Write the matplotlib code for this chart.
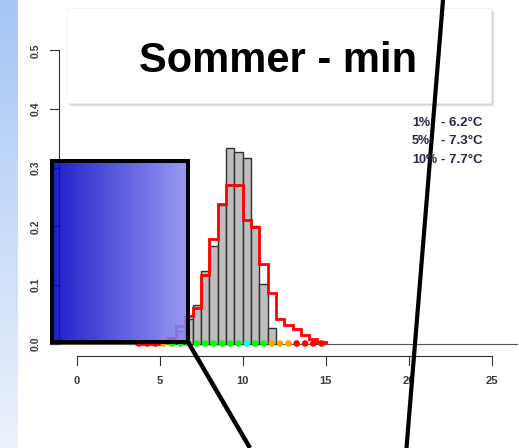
import matplotlib.pyplot as plt
import numpy as np
from matplotlib.patches import Rectangle

plt.rcParams['font.family'] = ['Liberation Sans', 'DejaVu Sans']

# observed histogram (grey bars), bin width 0.5
obs_left = [6.0, 6.5, 7.0, 7.5, 8.0, 8.5, 9.0, 9.5, 10.0, 10.5, 11.0, 11.5]
obs_dens = [0.021, 0.041, 0.065, 0.124, 0.167, 0.237, 0.333, 0.326, 0.316, 0.201, 0.102, 0.027]

# model histogram (red step line)
mod_edges = [3.5, 4.0, 4.5, 5.0, 5.5, 6.0, 6.5, 7.0, 7.5, 8.0, 8.5, 9.0, 9.5, 10.0,
             10.5, 11.0, 11.5, 12.0, 12.5, 13.0, 13.5, 14.0, 14.5, 15.0]
mod_dens = [0.0, 0.0, 0.0, 0.002, 0.010, 0.030, 0.047, 0.060, 0.117, 0.179, 0.238, 0.270,
            0.270, 0.210, 0.198, 0.135, 0.087, 0.042, 0.032, 0.024, 0.015, 0.007, 0.003]

# coloured points on the zero line
pt_x = [3.75, 4.25, 4.75, 5.25, 5.75, 6.25, 6.75, 7.25, 7.75, 8.25, 8.75, 9.25,
        9.75, 10.25, 10.75, 11.25, 11.75, 12.25, 12.75, 13.25, 13.75, 14.25, 14.75]
pt_col = ['red', 'red', 'red', 'orange', 'lime', 'lime', 'lime', 'lime', 'lime', 'lime',
          'lime', 'lime', 'lime', 'cyan', 'lime', 'lime', 'orange', 'orange', 'orange',
          'red', 'red', 'red', 'red']

xticks = [0, 5, 10, 15, 20, 25]
yticks = [0.0, 0.1, 0.2, 0.3, 0.4, 0.5]
title = "Sommer - min"
q_names = ["1%", "5%", "10%"]
q_vals = ["- 6.2°C", "- 7.3°C", "- 7.7°C"]

W, H = 519, 448
fig = plt.figure(figsize=(W / 100, H / 100), dpi=100)

# data axes placed so that x=0 -> 76.5px, 1 unit = 16.62px ; y=0 -> 343.5px, 1 unit = 586px
x0, sx = 76.5, 16.62
y0, sy = 343.5, 586.0
xl = (-1.5, 26.5)
yl = (-0.08, 0.56)
left = x0 + xl[0] * sx
bottom = H - (y0 - yl[0] * sy)
ax = fig.add_axes([left / W, bottom / H, (xl[1] - xl[0]) * sx / W, (yl[1] - yl[0]) * sy / H])
ax.set_xlim(xl)
ax.set_ylim(yl)
ax.axis('off')

ax.bar(obs_left, obs_dens, width=0.5, align='edge', color='#bebebe',
       edgecolor='#303030', linewidth=1.0, zorder=2)
ax.stairs(mod_dens, mod_edges, baseline=0, color='red', linewidth=2.0, zorder=3)
ax.plot([-1.5, 26.5], [0, 0], color='#555555', lw=0.8, zorder=1, clip_on=False)
ax.scatter(pt_x, [0] * len(pt_x), c=pt_col, s=14, zorder=4, clip_on=False)

# R style axes
ya = (59 - x0) / sx
yt = (50 - x0) / sx
ax.plot([ya, ya], [0, 0.5], color='#333333', lw=0.8, clip_on=False)
for t in yticks:
    ax.plot([yt, ya], [t, t], color='#333333', lw=0.8, clip_on=False)
    ax.text((36 - x0) / sx, t, f"{t:.1f}", rotation=90, ha='center', va='center',
            fontsize=7.5, fontweight='bold', color='#3a3a3a')
xa = (y0 - 355.5) / sy
xt = (y0 - 365) / sy
ax.plot([0, 25], [xa, xa], color='#333333', lw=0.8, clip_on=False)
for t in xticks:
    ax.plot([t, t], [xa, xt], color='#333333', lw=0.8, clip_on=False)
    ax.text(t, (y0 - 381) / sy, str(t), ha='center', va='center', fontsize=8,
            fontweight='bold', color='#3a3a3a')

# overlay in pixel coordinates
ov = fig.add_axes([0, 0, 1, 1], zorder=10)
ov.patch.set_alpha(0)
ov.axis('off')

# light blue strip on the left
strip = np.linspace(0, 1, 100)[:, None, None] * (np.array([236, 242, 252]) - np.array([165, 198, 246])) \
    + np.array([165, 198, 246])
ov.imshow(strip / 255, extent=[0, 18, H, 0], aspect='auto')

# title box with shadow
for d, a in [(4, 0.08), (3, 0.12), (2, 0.18)]:
    ov.add_patch(Rectangle((67 + d, 8 + d), 424, 95, facecolor='grey', edgecolor='none', alpha=a))
ov.add_patch(Rectangle((67, 8), 424, 95, facecolor='white', edgecolor='#f0f0f0', lw=0.5))
ov.text(278, 72, title, ha='center', va='baseline', fontsize=30, fontweight='bold', color='black')

# quantile notes
for i in range(3):
    yb = 126 + i * 18.3
    ov.text(412, yb, q_names[i], fontsize=9, fontweight='bold', color='#26264a', va='baseline')
    ov.text(441, yb, q_vals[i], fontsize=9.5, fontweight='bold', color='#26264a', va='baseline')

# blue gradient box
grad = np.linspace(0, 1, 200)[None, :, None] * (np.array([140, 140, 242]) - np.array([0, 0, 195])) \
    + np.array([0, 0, 195])
ov.imshow(grad / 255, extent=[52, 188, 342, 161], aspect='auto', alpha=0.88)
ov.add_patch(Rectangle((52, 161), 136, 181, fill=False, edgecolor='black', lw=2.9))

# black pointer lines
ov.plot([188, 250], [342, 448], color='black', lw=3.2, solid_capstyle='butt')
ov.plot([443, 406.5], [0, 448], color='black', lw=3.0, solid_capstyle='butt')

ov.set_xlim(0, W)
ov.set_ylim(H, 0)

fig.savefig('out.png', dpi=100)
